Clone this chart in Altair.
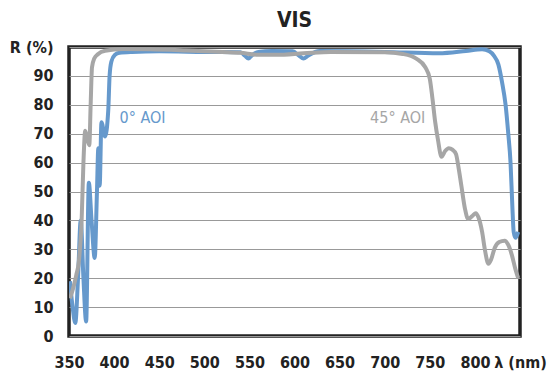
import altair as alt
import pandas as pd

# 0° AOI (blue)
wl_0 = [351, 354, 357, 360, 363, 366, 369, 372, 375, 378.5, 381, 382.5, 384, 386, 390, 393.5,
        395, 397, 401, 406, 420, 450, 500, 540, 545, 549, 553, 560, 575, 598, 605, 610, 615,
        628, 700, 760, 790, 808, 816, 821, 826, 830, 834, 837, 839.5, 841.5, 843, 845, 848]
r_0 = [19, 10, 4.5, 20, 40, 20, 5, 53, 40, 27, 50, 65, 52, 74, 69, 78,
       90, 95, 97.3, 98, 98.3, 98.5, 98.3, 98.2, 97, 96, 97.2, 98.3, 98.6, 98.5, 97, 96, 97,
       98.6, 98.3, 97.8, 98.6, 99.2, 98.5, 97, 94, 88, 80, 70, 60, 45, 36, 34, 36]

# 45° AOI (grey)
wl_45 = [351, 355, 358, 361, 364, 366, 368, 370.5, 372.5, 374, 375.5, 378, 382, 390, 410, 440,
         480, 520, 540, 560, 580, 610, 640, 700, 720, 735, 745, 750, 753, 756, 759, 763, 767,
         771, 775, 779, 782, 785, 789, 792.5, 797, 801, 804, 808, 811, 815, 818, 822, 827, 833,
         837, 841, 845, 848]
r_45 = [13, 17, 21, 26, 40, 60, 71, 68, 66, 80, 93, 96, 97.5, 98.7, 99.3, 99.2,
        98.8, 98.3, 98, 97.3, 97.3, 97.8, 98.3, 98.2, 97.6, 96, 93, 89, 82, 74, 68, 62, 64,
        65, 64.5, 63, 58, 52, 44, 40.5, 41.5, 42.5, 41, 36, 30, 25, 26.5, 30.5, 32.5, 33,
        31.5, 28, 23, 20]

x_ticks = [350, 400, 450, 500, 550, 600, 650, 700, 750, 800, 850]
y_ticks = [0, 10, 20, 30, 40, 50, 60, 70, 80, 90, 100]

series_names = ["0° AOI", "45° AOI"]
series_colors = ["#6699cc", "#a6a6a6"]

df = pd.concat([
    pd.DataFrame({"wl": wl_0, "r": r_0, "s": series_names[0], "o": range(len(wl_0))}),
    pd.DataFrame({"wl": wl_45, "r": r_45, "s": series_names[1], "o": range(len(wl_45))}),
])

label_df = pd.DataFrame({
    "wl": [406, 745],
    "r": [75.5, 75.5],
    "s": series_names,
})

FONT = "DejaVu Sans Condensed, sans-serif"

x_scale = alt.Scale(domain=[350, 850], nice=False, zero=False)
y_scale = alt.Scale(domain=[0, 100], nice=False)
color_scale = alt.Scale(domain=series_names, range=series_colors)

x_axis = alt.Axis(values=x_ticks, grid=False, ticks=False, domain=False,
                  labelExpr="datum.value == 850 ? 'λ (nm)' : datum.label",
                  labelFlush=False, labelOverlap=False, labelPadding=18,
                  labelFont=FONT, labelFontSize=16, labelFontWeight="bold",
                  labelColor="#222222")
y_axis = alt.Axis(values=y_ticks, grid=True, gridColor="#999999",
                  gridWidth=1, ticks=False, domain=False,
                  labelExpr="datum.value == 100 ? 'R (%)' : datum.label",
                  labelFlush=False, labelOverlap=False, labelPadding=16,
                  labelFont=FONT, labelFontSize=16, labelFontWeight="bold",
                  labelColor="#222222")

lines = alt.Chart(df).mark_line(strokeWidth=4, interpolate="monotone", clip=True).encode(
    x=alt.X("wl:Q", scale=x_scale, title=None, axis=x_axis),
    y=alt.Y("r:Q", scale=y_scale, title=None, axis=y_axis),
    color=alt.Color("s:N", scale=color_scale, legend=None),
    order="o:Q",
)

def label_layer(name, align):
    return alt.Chart(label_df).transform_filter(alt.datum.s == name).mark_text(
        font=FONT, fontSize=16, baseline="middle", align=align).encode(
        x=alt.X("wl:Q", scale=x_scale, title=None, axis=x_axis),
        y=alt.Y("r:Q", scale=y_scale, title=None, axis=y_axis),
        text="s:N",
        color=alt.Color("s:N", scale=color_scale, legend=None),
    )

chart = (lines + label_layer(series_names[0], "left") + label_layer(series_names[1], "right")).properties(
    width=451, height=289,
    title=alt.TitleParams("VIS", font=FONT, fontSize=21, fontWeight="bold", color="#222222",
                          anchor="middle", frame="group", offset=8),
    autosize=alt.AutoSizeParams(type="none"),
    padding={"left": 61, "top": 39, "right": 31, "bottom": 41},
).configure_view(stroke="#222222", strokeWidth=3.5)

chart.save("out.html", embed_options={"renderer": "svg", "actions": False})
